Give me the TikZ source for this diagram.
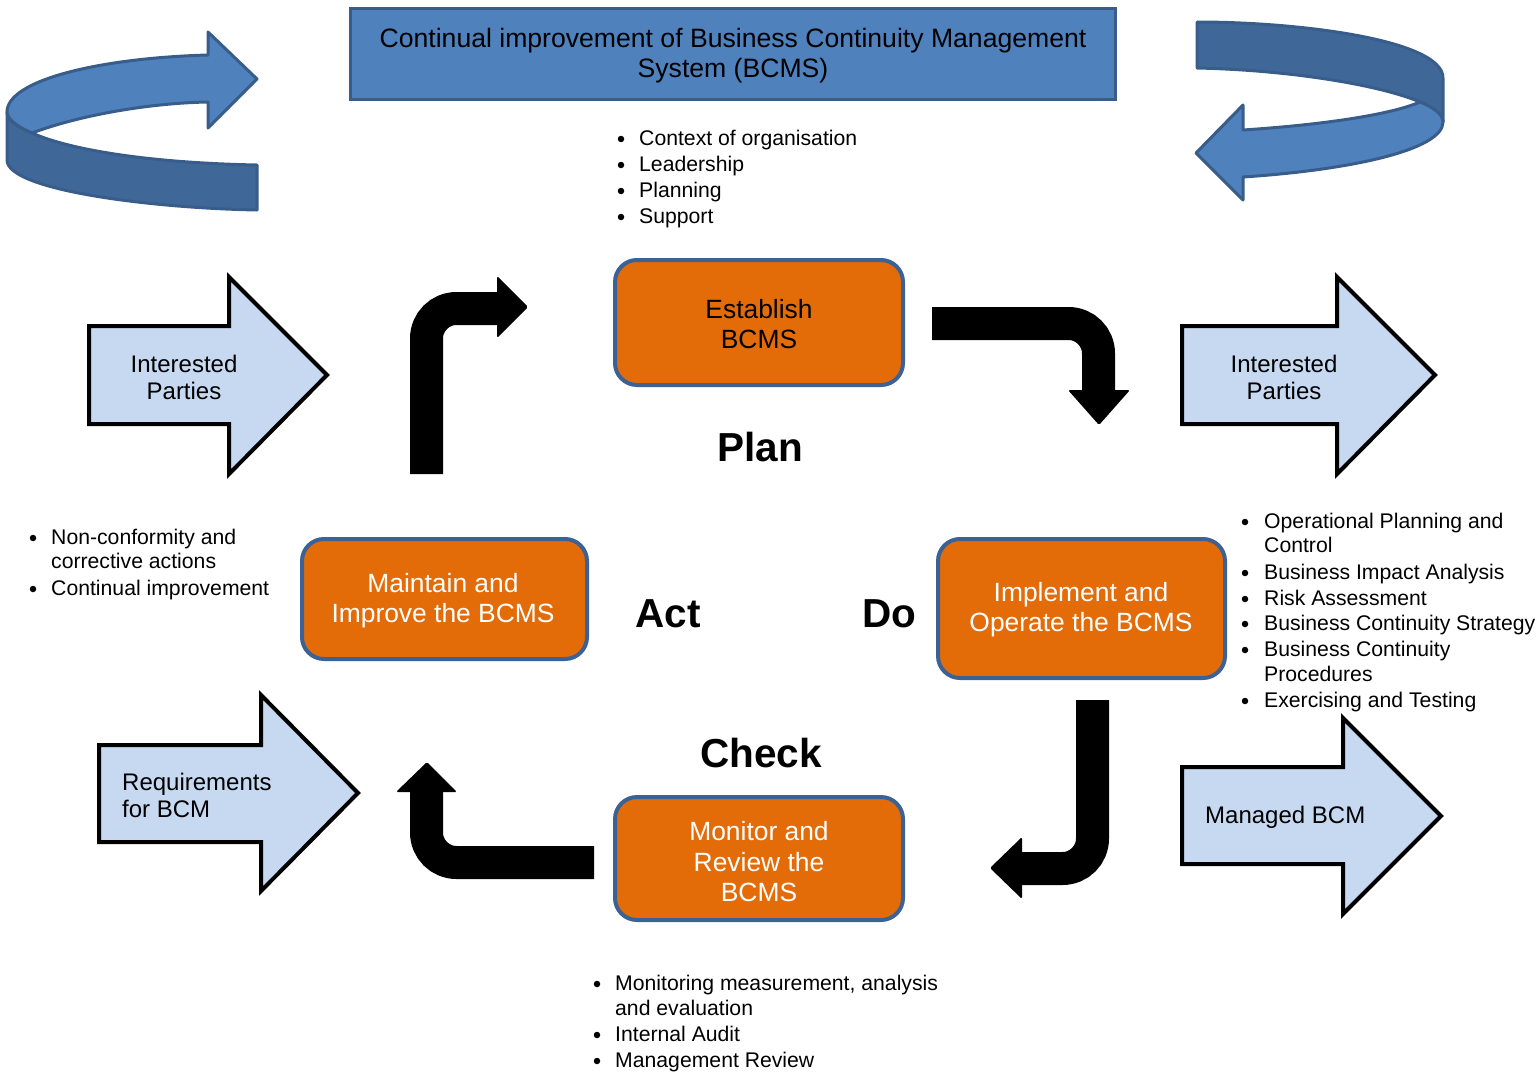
\documentclass[tikz,border=0pt]{standalone}
\usepackage{fontspec}
\setmainfont{Liberation Sans}
\definecolor{orng}{HTML}{E36C09}
\definecolor{bfill}{HTML}{4F81BD}
\definecolor{bdark}{HTML}{3F6899}
\definecolor{bline}{HTML}{385D8A}
\definecolor{lblue}{HTML}{C6D9F1}
\definecolor{boxline}{HTML}{3C6195}
\tikzset{
 phase/.style={draw=boxline, line width=4pt, fill=orng, rounded corners=22pt, align=center, font=\fontsize{26.4}{30}\selectfont, inner sep=0pt},
 blk/.style={draw=black, line width=4pt, fill=lblue, line join=miter},
 bent/.style={line width=33pt, rounded corners=30pt},
 headtip/.style={fill=black, rounded corners=1.5pt},
 bul/.style={anchor=base west, inner sep=0pt, font=\fontsize{21.2}{24}\selectfont},
 dot/.style={fill=black, circle, inner sep=0pt, minimum size=6.5pt},
 pdca/.style={font=\bfseries\fontsize{40.5}{48}\selectfont, inner sep=0pt},
 ctxt/.style={align=center, font=\fontsize{24}{27}\selectfont, inner sep=0pt},
 curv/.style={draw=bline, line width=3pt, line join=round},
}
\begin{document}
\begin{tikzpicture}[x=1pt,y=-1pt]
\useasboundingbox (0,0) rectangle (1539,1073);

% title box
\node[draw=bline, line width=3pt, fill=bfill, minimum width=765pt, minimum height=91pt, inner sep=0pt] (title) at (733,54) {};
\node[align=center, inner sep=0pt, font=\fontsize{26.6}{30}\selectfont] (titletxt) at (733,56) {Continual improvement of Business Continuity Management\\System (BCMS)};

% top-left curved arrow
\path[curv, fill=bdark] (7,112) -- (7,160) .. controls (7,190) and (150,208) .. (257,210) -- (257,165) .. controls (150,163) and (70,150) .. (32,133) .. controls (15,126) and (7,118) .. (7,112) -- cycle;
\path[curv, fill=bfill] (208,55) -- (208,32) -- (257,79) -- (208,128) -- (208,102) .. controls (150,103) and (80,115) .. (32,133) .. controls (15,126) and (7,118) .. (7,112) .. controls (7,80) and (100,58) .. (208,55) -- cycle;

% top-right curved arrow
\path[curv, fill=bdark] (1197,22) -- (1197,68) .. controls (1290,70) and (1380,85) .. (1420,102) .. controls (1435,108) and (1443,115) .. (1443,122) -- (1443,78) .. controls (1443,40) and (1300,22) .. (1197,22) -- cycle;
\path[curv, fill=bfill] (1243,130) .. controls (1320,125) and (1390,115) .. (1420,102) .. controls (1435,108) and (1443,115) .. (1443,122) .. controls (1443,150) and (1350,170) .. (1243,177) -- (1243,200) -- (1196,153) -- (1243,105) -- cycle;

% top bullet list
\node[dot] (d1) at (621,139) {}; \node[bul] (t1) at (639,145.5) {Context of organisation};
\node[dot] (d2) at (621,165) {}; \node[bul] (t2) at (639,171.5) {Leadership};
\node[dot] (d3) at (621,191) {}; \node[bul] (t3) at (639,197.5) {Planning};
\node[dot] (d4) at (621,217) {}; \node[bul] (t4) at (639,223.5) {Support};

% phase boxes
\node[phase, minimum width=288pt, minimum height=125pt] (est) at (759,322.5) {};
\node[align=center, inner sep=0pt, font=\fontsize{26.4}{30}\selectfont] (esttxt) at (759,324.5) {Establish\\BCMS};
\node[phase, minimum width=285pt, minimum height=120pt] (mai) at (444.5,599) {};
\node[align=center, inner sep=0pt, text=white, font=\fontsize{26.4}{30}\selectfont] (maitxt) at (443,601) {Maintain and\\Improve the BCMS};
\node[phase, minimum width=287pt, minimum height=139pt] (imp) at (1081.5,608.5) {};
\node[align=center, inner sep=0pt, text=white, font=\fontsize{26.4}{30}\selectfont] (imptxt) at (1081,610) {Implement and\\Operate the BCMS};
\node[phase, minimum width=288pt, minimum height=123pt] (mon) at (759,858.5) {};
\node[align=center, inner sep=0pt, text=white, font=\fontsize{26.4}{30.5}\selectfont] (montxt) at (759,862) {Monitor and\\Review the\\BCMS};

% PDCA labels
\node[pdca] (plan) at (760,447) {Plan};
\node[pdca] (act) at (668,614) {Act};
\node[pdca] (do) at (889,614) {Do};
\node[pdca] (check) at (761,753) {Check};

% black bent arrows
\coordinate (a1s) at (426.5,474); \coordinate (a1e) at (499,308.5);
\draw[bent] (a1s) |- (a1e);
\path[headtip] (497,276) -- (528,307) -- (497,338) -- cycle;

\coordinate (a2s) at (932,323.5); \coordinate (a2e) at (1098.5,392);
\draw[bent] (a2s) -| (a2e);
\path[headtip] (1068,390) -- (1130,390) -- (1099,425) -- cycle;

\coordinate (a3s) at (1092.5,700); \coordinate (a3e) at (1020,868.5);
\draw[bent] (a3s) |- (a3e);
\path[headtip] (1022,837) -- (1022,899) -- (990,868) -- cycle;

\coordinate (a4s) at (594,862.5); \coordinate (a4e) at (426.5,790);
\draw[bent] (a4s) -| (a4e);
\path[headtip] (396,792) -- (457,792) -- (427,762) -- cycle;

% light blue block arrows
\path[blk] (89,326) -- (229,326) -- (229,277) -- (327,375) -- (229,474) -- (229,424) -- (89,424) -- cycle;
\node[ctxt] (ip1) at (184,377) {Interested\\Parties};
\path[blk] (1182,326) -- (1337,326) -- (1337,277) -- (1435,375) -- (1337,474) -- (1337,424) -- (1182,424) -- cycle;
\node[ctxt] (ip2) at (1284,377) {Interested\\Parties};
\path[blk] (99,745) -- (261,745) -- (261,695) -- (358,793) -- (261,891) -- (261,842) -- (99,842) -- cycle;
\node[ctxt, align=left, anchor=west] (req) at (122,795) {Requirements\\for BCM};
\path[blk] (1182,767) -- (1343,767) -- (1343,718) -- (1441,816) -- (1343,914) -- (1343,864) -- (1182,864) -- cycle;
\node[ctxt, anchor=west] (man) at (1205,817) {Managed BCM};

% left bullet list
\node[dot] (l1) at (33,538) {}; \node[bul] (lt1) at (51,544) {Non-conformity and};
\node[bul] (lt1b) at (51,568) {corrective actions};
\node[dot] (l2) at (33,589) {}; \node[bul] (lt2) at (51,595) {Continual improvement};

% right bullet list
\node[dot] (r1) at (1245,522) {}; \node[bul] (rt1) at (1264,528) {Operational Planning and};
\node[bul] (rt1b) at (1264,552) {Control};
\node[dot] (r2) at (1245,573) {}; \node[bul] (rt2) at (1264,579) {Business Impact Analysis};
\node[dot] (r3) at (1245,599) {}; \node[bul] (rt3) at (1264,605) {Risk Assessment};
\node[dot] (r4) at (1245,624) {}; \node[bul] (rt4) at (1264,630) {Business Continuity Strategy};
\node[dot] (r5) at (1245,650) {}; \node[bul] (rt5) at (1264,656) {Business Continuity};
\node[bul] (rt5b) at (1264,681) {Procedures};
\node[dot] (r6) at (1245,701) {}; \node[bul] (rt6) at (1264,707) {Exercising and Testing};

% bottom bullet list
\node[dot] (b1) at (597,984) {}; \node[bul] (bt1) at (615,990) {Monitoring measurement, analysis};
\node[bul] (bt1b) at (615,1015) {and evaluation};
\node[dot] (b2) at (597,1035) {}; \node[bul] (bt2) at (615,1041) {Internal Audit};
\node[dot] (b3) at (597,1061) {}; \node[bul] (bt3) at (615,1067) {Management Review};
\end{tikzpicture}
\end{document}
